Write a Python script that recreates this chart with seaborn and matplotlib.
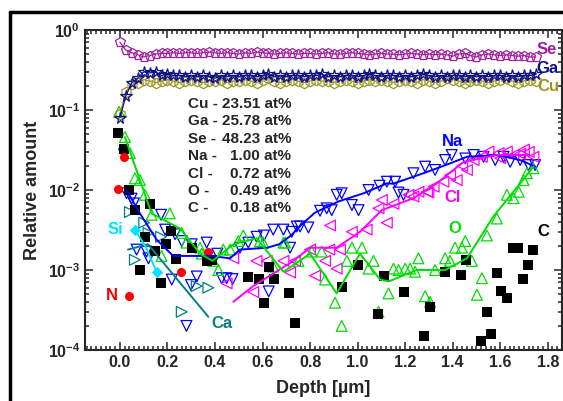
import numpy as np
import pandas as pd
import matplotlib
matplotlib.use("Agg")
import matplotlib.pyplot as plt
import seaborn as sns
from matplotlib.lines import Line2D
from matplotlib.ticker import MultipleLocator, LogLocator, FixedLocator, NullFormatter

# matrix elements (same depth grid)
matrix_depth = [0.000, 0.025, 0.050, 0.075, 0.100, 0.125, 0.150, 0.175, 0.200, 0.225,
                0.250, 0.275, 0.300, 0.325, 0.350, 0.375, 0.400, 0.425, 0.450, 0.475,
                0.500, 0.525, 0.550, 0.575, 0.600, 0.625, 0.650, 0.675, 0.700, 0.725,
                0.750, 0.775, 0.800, 0.825, 0.850, 0.875, 0.900, 0.925, 0.950, 0.975,
                1.000, 1.025, 1.050, 1.075, 1.100, 1.125, 1.150, 1.175, 1.200, 1.225,
                1.250, 1.275, 1.300, 1.325, 1.350, 1.375, 1.400, 1.425, 1.450, 1.475,
                1.500, 1.525, 1.550, 1.575, 1.600, 1.625, 1.650, 1.675, 1.700, 1.725,
                1.750]
se = [0.70, 0.56, 0.52, 0.49, 0.46, 0.48, 0.50, 0.51, 0.51, 0.52,
      0.51, 0.52, 0.52, 0.51, 0.52, 0.53, 0.52, 0.51, 0.52, 0.51,
      0.50, 0.52, 0.51, 0.53, 0.52, 0.51, 0.50, 0.51, 0.52, 0.51,
      0.50, 0.51, 0.51, 0.50, 0.51, 0.52, 0.50, 0.50, 0.51, 0.52,
      0.51, 0.50, 0.49, 0.50, 0.51, 0.50, 0.50, 0.49, 0.50, 0.51,
      0.50, 0.49, 0.50, 0.49, 0.50, 0.49, 0.47, 0.50, 0.51, 0.48,
      0.46, 0.49, 0.50, 0.49, 0.48, 0.49, 0.48, 0.47, 0.48, 0.46,
      0.46]
ga = [0.08, 0.15, 0.22, 0.25, 0.30, 0.29, 0.30, 0.27, 0.28, 0.27,
      0.27, 0.26, 0.27, 0.26, 0.27, 0.26, 0.25, 0.27, 0.26, 0.27,
      0.26, 0.27, 0.27, 0.26, 0.27, 0.28, 0.26, 0.27, 0.26, 0.27,
      0.27, 0.26, 0.27, 0.27, 0.28, 0.26, 0.27, 0.26, 0.27, 0.27,
      0.26, 0.27, 0.28, 0.27, 0.26, 0.27, 0.27, 0.26, 0.27, 0.26,
      0.27, 0.28, 0.27, 0.26, 0.27, 0.26, 0.27, 0.27, 0.26, 0.27,
      0.26, 0.27, 0.26, 0.27, 0.27, 0.26, 0.27, 0.26, 0.27, 0.27,
      0.28]
cu = [0.09, 0.17, 0.21, 0.22, 0.24, 0.23, 0.22, 0.23, 0.24, 0.23,
      0.22, 0.23, 0.24, 0.23, 0.22, 0.23, 0.23, 0.24, 0.22, 0.23,
      0.23, 0.24, 0.23, 0.22, 0.24, 0.25, 0.23, 0.22, 0.23, 0.24,
      0.23, 0.22, 0.23, 0.24, 0.23, 0.23, 0.22, 0.23, 0.24, 0.23,
      0.22, 0.23, 0.24, 0.23, 0.24, 0.23, 0.22, 0.23, 0.24, 0.23,
      0.22, 0.24, 0.23, 0.22, 0.23, 0.25, 0.24, 0.23, 0.22, 0.23,
      0.24, 0.23, 0.22, 0.23, 0.24, 0.25, 0.23, 0.22, 0.23, 0.24,
      0.23]

# impurities
c_x = [-0.008, 0.017, 0.038, 0.063, 0.084, 0.105, 0.127, 0.149, 0.171, 0.192, 0.213, 0.236,
       0.302, 0.365, 0.389, 0.54, 0.584, 0.606, 0.629, 0.65, 0.713, 0.737, 0.933, 1.0,
       1.085, 1.109, 1.196, 1.281, 1.305, 1.367, 1.433, 1.455, 1.52, 1.544, 1.563, 1.587,
       1.605, 1.63, 1.652, 1.673, 1.697, 1.717, 1.74]
c_y = [0.0515, 0.0325, 0.01, 0.0056, 0.00099, 0.00259, 0.0067, 0.00173, 0.00068, 0.0021, 0.0031, 0.00136,
       0.00187, 0.00131, 0.00134, 0.00081, 0.00078, 0.00039, 0.0011, 0.00078, 0.00051, 0.00022, 0.00062, 0.00114,
       0.00028, 0.00085, 0.00053, 0.00015, 0.00034, 0.00095, 0.00087, 0.00134, 0.00013, 0.0003, 0.00016, 0.00092,
       0.00054, 0.00045, 0.0019, 0.0019, 0.00078, 0.00115, 0.0018]

n_x = [-0.007, 0.017, 0.039, 0.257, 0.369]
n_y = [0.0102, 0.026, 0.00047, 0.00094, 0.0017]

si_x = [0.063, 0.11, 0.154]
si_y = [0.0032, 0.0019, 0.00095]

ca_x = [0.042, 0.063, 0.102, 0.12, 0.173, 0.26, 0.323, 0.372]
ca_y = [0.0053, 0.00134, 0.0039, 0.0029, 0.0026, 0.0003, 0.00063, 0.0006]
ca_fit_x = [0.034, 0.118, 0.372]
ca_fit_y = [0.0018, 0.0021, 0.00026]

na_x = [0.017, 0.028, 0.049, 0.059, 0.07, 0.112, 0.12, 0.173, 0.19, 0.218,
        0.232, 0.26, 0.28, 0.299, 0.302, 0.323, 0.365, 0.41, 0.428, 0.449,
        0.474, 0.505, 0.54, 0.575, 0.606, 0.626, 0.645, 0.688, 0.716, 0.723,
        0.744, 0.758, 0.793, 0.842, 0.87, 0.891, 0.912, 0.933, 0.976, 1.004,
        1.046, 1.092, 1.123, 1.158, 1.172, 1.193, 1.235, 1.284, 1.326, 1.368,
        1.396, 1.453, 1.488, 1.53, 1.579, 1.614, 1.642, 1.684, 1.719, 1.747]
na_y = [0.028, 0.0091, 0.0078, 0.0068, 0.0018, 0.0017, 0.0014, 0.0049, 0.0032, 0.00076,
        0.0028, 0.0023, 0.0002, 0.00065, 0.0021, 0.00083, 0.0022, 0.0016, 0.00079, 0.00079,
        0.00077, 0.0019, 0.0022, 0.0026, 0.0027, 0.00054, 0.0032, 0.0032, 0.0019, 0.0030,
        0.0035, 0.0035, 0.0034, 0.0055, 0.0059, 0.0056, 0.0087, 0.0091, 0.0065, 0.0056,
        0.0100, 0.0113, 0.0127, 0.0127, 0.0093, 0.0087, 0.0162, 0.0196, 0.0178, 0.0237,
        0.0274, 0.0248, 0.0274, 0.026, 0.0237, 0.026, 0.0225, 0.0237, 0.0205, 0.0205]
na_fit_x = [0.03, 0.084, 0.154, 0.224, 0.30, 0.38, 0.463, 0.505, 0.62, 0.67, 0.72,
            0.76, 0.82, 0.92, 1.025, 1.123, 1.15, 1.277, 1.38, 1.46, 1.586, 1.684, 1.747]
na_fit_y = [0.0097, 0.0051, 0.0024, 0.0015, 0.0015, 0.0015, 0.0014, 0.0018, 0.0019, 0.0021, 0.0027,
            0.0036, 0.0052, 0.0072, 0.0091, 0.0121, 0.0120, 0.0162, 0.021, 0.026, 0.0274, 0.0237, 0.0196]

cl_x = [0.449, 0.477, 0.561, 0.575, 0.618, 0.688, 0.716, 0.737, 0.80, 0.821,
        0.863, 0.881, 0.884, 0.912, 0.926, 0.976, 1.038, 1.088, 1.102, 1.123,
        1.151, 1.214, 1.235, 1.256, 1.292, 1.298, 1.32, 1.361, 1.389, 1.417,
        1.44, 1.46, 1.488, 1.523, 1.551, 1.593, 1.60, 1.628, 1.656, 1.684,
        1.70, 1.72, 1.74]
cl_y = [0.00068, 0.0014, 0.00053, 0.0013, 0.0013, 0.0013, 0.00093, 0.0013, 0.0018, 0.00085,
        0.0013, 0.0018, 0.0036, 0.00104, 0.0018, 0.003, 0.0032, 0.0059, 0.0075, 0.0039,
        0.0067, 0.0087, 0.0083, 0.0095, 0.0095, 0.0093, 0.011, 0.0127, 0.0153, 0.0133,
        0.020, 0.0178, 0.0237, 0.026, 0.0303, 0.0289, 0.025, 0.0303, 0.0274, 0.0283,
        0.032, 0.030, 0.026]
cl_fit_x = [0.477, 0.561, 0.73, 0.80, 0.912, 1.01, 1.102, 1.235, 1.333, 1.446, 1.586, 1.684, 1.72]
cl_fit_y = [0.0004, 0.00063, 0.0013, 0.0019, 0.0019, 0.003, 0.0056, 0.0079, 0.0121, 0.0225, 0.0274, 0.0274, 0.027]

o_x = [-0.004, 0.021, 0.042, 0.063, 0.084, 0.105, 0.133, 0.175, 0.21, 0.26,
       0.28, 0.337, 0.344, 0.393, 0.414, 0.435, 0.463, 0.498, 0.519, 0.589,
       0.603, 0.645, 0.688, 0.695, 0.751, 0.807, 0.849, 0.863, 0.905, 0.933,
       0.955, 0.976, 1.018, 1.046, 1.067, 1.088, 1.13, 1.151, 1.172, 1.2,
       1.221, 1.242, 1.256, 1.284, 1.305, 1.326, 1.368, 1.389, 1.41, 1.439,
       1.453, 1.481, 1.502, 1.523, 1.544, 1.586, 1.628, 1.656, 1.678, 1.698,
       1.712, 1.74]
o_y = [0.095, 0.046, 0.029, 0.014, 0.0133, 0.0087, 0.0049, 0.0015, 0.0051, 0.0029,
       0.0022, 0.0019, 0.0016, 0.0013, 0.001, 0.0018, 0.0018, 0.0023, 0.0027, 0.0023,
       0.0022, 0.0011, 0.0022, 0.0022, 0.0013, 0.0017, 0.0017, 0.00076, 0.00039, 0.0002,
       0.0013, 0.0019, 0.0019, 0.00104, 0.0013, 0.0003, 0.00051, 0.00104, 0.001, 0.00104,
       0.00104, 0.00095, 0.0014, 0.00047, 0.0004, 0.001, 0.0014, 0.0013, 0.0019, 0.0019,
       0.0023, 0.0013, 0.00049, 0.00079, 0.0027, 0.0044, 0.0087, 0.0079, 0.0095, 0.0133,
       0.0162, 0.0187]
o_fit_x = [0.021, 0.133, 0.253, 0.337, 0.39, 0.477, 0.575, 0.688, 0.80, 0.912,
           1.01, 1.095, 1.13, 1.249, 1.368, 1.46, 1.572, 1.684, 1.74]
o_fit_y = [0.046, 0.0051, 0.0033, 0.0016, 0.0013, 0.0021, 0.0025, 0.00095, 0.0016, 0.00051,
           0.0016, 0.00076, 0.00072, 0.001, 0.001, 0.0014, 0.0047, 0.0121, 0.0196]

composition = ["Cu", "Ga", "Se", "Na", "Cl", "O", "C"]
at_percent = ["23.51", "25.78", "48.23", "1.00", "0.72", "0.49", "0.18"]

sns.set_style("ticks")
plt.rcParams['font.family'] = ['Liberation Sans', 'DejaVu Sans']
plt.rcParams['font.weight'] = 'bold'
plt.rcParams['mathtext.fontset'] = 'custom'
plt.rcParams['mathtext.bf'] = 'Liberation Sans:bold'
plt.rcParams['mathtext.rm'] = 'Liberation Sans:bold'

fig = plt.figure(figsize=(5.63, 4.01), dpi=100)
ax = fig.add_axes([85/563, 51/401, 477/563, 320/401])

# colours
c_se, c_ga, c_cu = '#A020A0', '#10108C', '#9C9420'
c_na, c_cl, c_o = '#0000FF', '#FF00FF', '#00DD00'
c_ca, c_si, c_n = '#008080', '#00E5FF', '#FF0000'

# matrix lines with open symbols
for vals, col, mk, ms in [(se, c_se, 'p', 7.5), (cu, c_cu, 'h', 7.5), (ga, c_ga, '*', 8.5)]:
    sns.lineplot(x=matrix_depth, y=vals, ax=ax, color=col, lw=0.9, marker=mk, ms=ms,
                 markerfacecolor='none', markeredgecolor=col, markeredgewidth=0.9,
                 sort=False, estimator=None)

# fitted lines for impurities
for fx, fy, col in [(na_fit_x, na_fit_y, c_na), (cl_fit_x, cl_fit_y, c_cl),
                    (o_fit_x, o_fit_y, c_o), (ca_fit_x, ca_fit_y, c_ca),
                    (si_x, si_y, c_si)]:
    sns.lineplot(x=fx, y=fy, ax=ax, color=col, lw=1.4, sort=False, estimator=None)

# open symbols for impurities
for px, py, col, mk in [(na_x, na_y, c_na, 'v'), (cl_x, cl_y, c_cl, '<'),
                        (o_x, o_y, c_o, '^'), (ca_x, ca_y, c_ca, '>')]:
    sns.scatterplot(x=px, y=py, ax=ax, marker=mk, s=60, facecolor='none',
                    edgecolor=col, linewidth=0.9)

# filled symbols
sns.scatterplot(x=c_x, y=c_y, ax=ax, marker='s', s=42, color='black', linewidth=0)
sns.scatterplot(x=n_x, y=n_y, ax=ax, marker='o', s=42, color=c_n, linewidth=0)
sns.scatterplot(x=si_x[:1] + si_x[2:], y=si_y[:1] + si_y[2:], ax=ax, marker='D', s=34,
                color=c_si, linewidth=0)

ax.set_yscale('log')
ax.set_xlim(-0.147, 1.86)
ax.set_ylim(1e-4, 1)

ax.xaxis.set_minor_locator(MultipleLocator(0.02))
ax.set_xticks([0.0, 0.2, 0.4, 0.6, 0.8, 1.0, 1.2, 1.4, 1.6, 1.8])
ax.set_xticklabels(['0.0', '0.2', '0.4', '0.6', '0.8', '1.0', '1.2', '1.4', '1.6', '1.8'])
ax.yaxis.set_major_locator(FixedLocator([1e-4, 1e-3, 1e-2, 1e-1, 1]))
ax.yaxis.set_minor_locator(LogLocator(base=10, subs=np.arange(2, 10)))
ax.yaxis.set_minor_formatter(NullFormatter())
ax.set_yticklabels([r'$\mathbf{10^{-4}}$', r'$\mathbf{10^{-3}}$', r'$\mathbf{10^{-2}}$',
                    r'$\mathbf{10^{-1}}$', r'$\mathbf{10^{0}}$'])

ax.tick_params(which='both', direction='in', top=True, right=True, width=1.1, labelsize=11.5)
ax.tick_params(which='major', length=6)
ax.tick_params(which='minor', length=3)
for lbl in ax.get_xticklabels():
    lbl.set_fontweight('bold')
for sp in ax.spines.values():
    sp.set_linewidth(1.5)

ax.set_xlabel('Depth [µm]', fontsize=13, fontweight='bold', labelpad=7)
ax.set_ylabel('Relative amount', fontsize=13, fontweight='bold', labelpad=5)

# element labels
lab = dict(fontsize=12, fontweight='bold', transform=ax.transAxes, va='center')
ax.text(0.946, 0.9375, 'Se', color=c_se, **lab)
ax.text(0.946, 0.881, 'Ga', color=c_ga, **lab)
ax.text(0.948, 0.822, 'Cu', color=c_cu, **lab)
ax.text(0.771, 0.65, 'Na', color=c_na, ha='center', **lab)
ax.text(0.771, 0.478, 'Cl', color=c_cl, ha='center', **lab)
ax.text(0.776, 0.381, 'O', color=c_o, ha='center', **lab)
ax.text(0.960, 0.369, 'C', color='black', ha='center', **lab)
ax.text(0.063, 0.375, 'Si', color=c_si, ha='center', **lab)
ax.text(0.057, 0.169, 'N', color=c_n, ha='center', **lab)
ax.text(0.287, 0.084, 'Ca', color=c_ca, ha='center', **lab)

# composition block
for i, (el, val) in enumerate(zip(composition, at_percent)):
    yy = (350 - (104 + i * 17.4)) / 320
    ax.text((188 - 85) / 477, yy, el + ' -', fontsize=11, fontweight='bold',
            transform=ax.transAxes, va='center', ha='left')
    ax.text((291 - 85) / 477, yy, val + ' at%', fontsize=11, fontweight='bold',
            transform=ax.transAxes, va='center', ha='right')

# outer frame of the original figure
fig.add_artist(Line2D([10/563, 10/563], [0, 1 - 12/401], transform=fig.transFigure,
                      color='black', lw=2.5))
fig.add_artist(Line2D([10/563, 1], [1 - 12/401, 1 - 12/401], transform=fig.transFigure,
                      color='black', lw=2.5))

fig.savefig('out.png', dpi=100)
